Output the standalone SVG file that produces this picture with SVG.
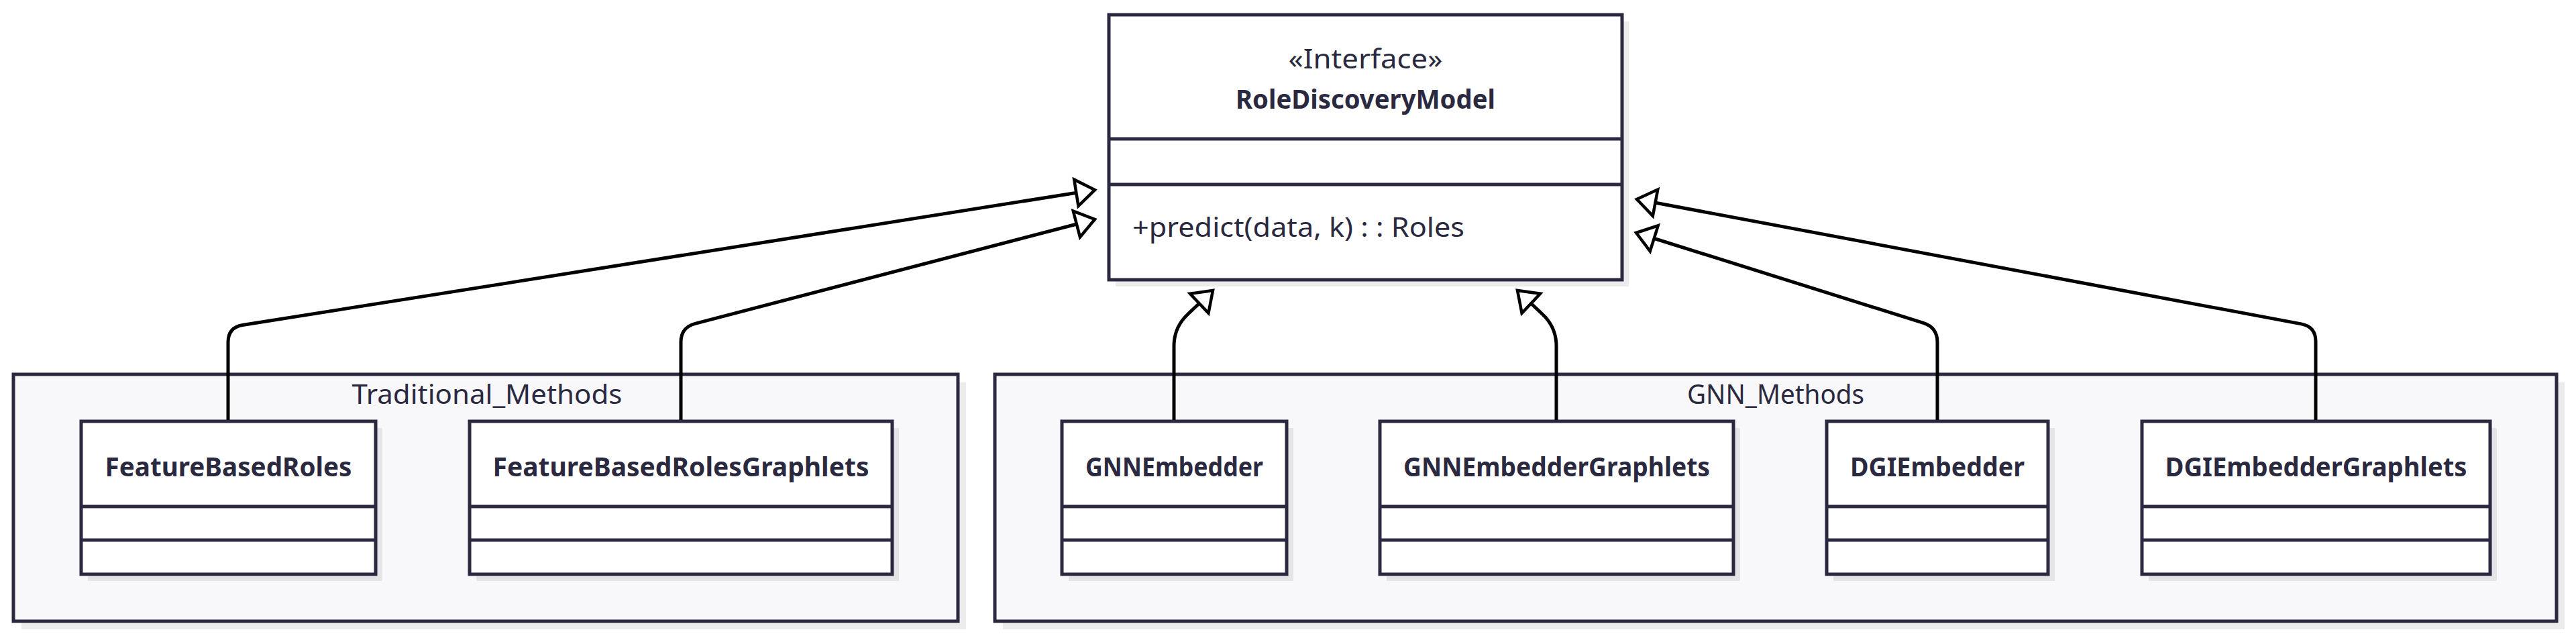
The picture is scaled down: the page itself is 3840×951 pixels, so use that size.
<svg xmlns="http://www.w3.org/2000/svg" width="3840" height="951" viewBox="0 0 3840 951">
<defs>
<style>
.bg{fill:#ffffff}
.cluster{fill:#f8f8fa;stroke:#2a2940;stroke-width:5}
.shadow{fill:#000;fill-opacity:0.075}
.box{fill:#ffffff;stroke:#2a2940;stroke-width:5}
.sep{stroke:#2a2940;stroke-width:5;fill:none}
.edge{fill:none;stroke:#000;stroke-width:5}
text{font-family:"Noto Sans","Liberation Sans",sans-serif;font-size:40px;fill:#2a2940}
.name{font-weight:bold;text-anchor:middle}
.mid{text-anchor:middle}
</style>
<marker id="ext" markerUnits="userSpaceOnUse" markerWidth="40" markerHeight="50" refX="30" refY="22" orient="auto" overflow="visible">
<path d="M2,2 L30,22 L2,42 Z" fill="#ffffff" stroke="#000" stroke-width="4.5" stroke-linejoin="miter"/>
</marker>
</defs>
<rect class="bg" x="0" y="0" width="3840" height="951"/>

<g id="cluster-Traditional_Methods">
<rect class="shadow" x="32" y="570" width="1408" height="368"/>
<rect class="cluster" x="20" y="558" width="1408" height="368"/>
<text class="mid" x="726" y="602" textLength="403" lengthAdjust="spacingAndGlyphs">Traditional_Methods</text>
</g>
<g id="cluster-GNN_Methods">
<rect class="shadow" x="1495" y="570" width="2328" height="368"/>
<rect class="cluster" x="1483" y="558" width="2328" height="368"/>
<text class="mid" x="2647" y="602" textLength="264" lengthAdjust="spacingAndGlyphs">GNN_Methods</text>
</g>

<g id="RoleDiscoveryModel">
<rect class="shadow" x="1663" y="32" width="765" height="395"/>
<rect class="box" x="1653" y="22" width="765" height="395"/>
<line class="sep" x1="1653" y1="207" x2="2418" y2="207"/>
<line class="sep" x1="1653" y1="275" x2="2418" y2="275"/>
<text class="mid" x="2035.5" y="102" textLength="230" lengthAdjust="spacingAndGlyphs">«Interface»</text>
<text class="name" x="2035.5" y="162" textLength="387" lengthAdjust="spacingAndGlyphs">RoleDiscoveryModel</text>
<text x="1688" y="353" textLength="495" lengthAdjust="spacingAndGlyphs">+predict(data, k) : : Roles</text>
</g>

<g id="FeatureBasedRoles">
<rect class="shadow" x="131" y="638" width="439" height="228"/>
<rect class="box" x="121" y="628" width="439" height="228"/>
<line class="sep" x1="121" y1="755" x2="560" y2="755"/>
<line class="sep" x1="121" y1="805" x2="560" y2="805"/>
<text class="name" x="340.5" y="710" textLength="368" lengthAdjust="spacingAndGlyphs">FeatureBasedRoles</text>
</g>
<g id="FeatureBasedRolesGraphlets">
<rect class="shadow" x="710" y="638" width="630" height="228"/>
<rect class="box" x="700" y="628" width="630" height="228"/>
<line class="sep" x1="700" y1="755" x2="1330" y2="755"/>
<line class="sep" x1="700" y1="805" x2="1330" y2="805"/>
<text class="name" x="1015" y="710" textLength="561" lengthAdjust="spacingAndGlyphs">FeatureBasedRolesGraphlets</text>
</g>
<g id="GNNEmbedder">
<rect class="shadow" x="1593" y="638" width="335" height="228"/>
<rect class="box" x="1583" y="628" width="335" height="228"/>
<line class="sep" x1="1583" y1="755" x2="1918" y2="755"/>
<line class="sep" x1="1583" y1="805" x2="1918" y2="805"/>
<text class="name" x="1750.5" y="710" textLength="265" lengthAdjust="spacingAndGlyphs">GNNEmbedder</text>
</g>
<g id="GNNEmbedderGraphlets">
<rect class="shadow" x="2067" y="638" width="527" height="228"/>
<rect class="box" x="2057" y="628" width="527" height="228"/>
<line class="sep" x1="2057" y1="755" x2="2584" y2="755"/>
<line class="sep" x1="2057" y1="805" x2="2584" y2="805"/>
<text class="name" x="2320.5" y="710" textLength="457" lengthAdjust="spacingAndGlyphs">GNNEmbedderGraphlets</text>
</g>
<g id="DGIEmbedder">
<rect class="shadow" x="2733" y="638" width="330" height="228"/>
<rect class="box" x="2723" y="628" width="330" height="228"/>
<line class="sep" x1="2723" y1="755" x2="3053" y2="755"/>
<line class="sep" x1="2723" y1="805" x2="3053" y2="805"/>
<text class="name" x="2888" y="710" textLength="260" lengthAdjust="spacingAndGlyphs">DGIEmbedder</text>
</g>
<g id="DGIEmbedderGraphlets">
<rect class="shadow" x="3203" y="638" width="519" height="228"/>
<rect class="box" x="3193" y="628" width="519" height="228"/>
<line class="sep" x1="3193" y1="755" x2="3712" y2="755"/>
<line class="sep" x1="3193" y1="805" x2="3712" y2="805"/>
<text class="name" x="3452.5" y="710" textLength="450" lengthAdjust="spacingAndGlyphs">DGIEmbedderGraphlets</text>
</g>

<g id="connectors">
<path class="edge" marker-end="url(#ext)" d="M340,626 L340,510 Q340,488 361.7,484.5 L1632,283"/>
<path class="edge" marker-end="url(#ext)" d="M1015,626 L1015,510 Q1015,488 1036.3,482.4 L1632,327"/>
<path class="edge" marker-end="url(#ext)" d="M1750,626 L1750,516 Q1750,488 1770.3,468.7 L1808,433"/>
<path class="edge" marker-end="url(#ext)" d="M2320,626 L2320,516 Q2320,488 2299.7,468.7 L2262,433"/>
<path class="edge" marker-end="url(#ext)" d="M2888,626 L2888,510 Q2888,488 2867,481.4 L2439,347"/>
<path class="edge" marker-end="url(#ext)" d="M3452,626 L3452,509 Q3452,487 3430.4,482.9 L2440,297"/>
</g>
</svg>
